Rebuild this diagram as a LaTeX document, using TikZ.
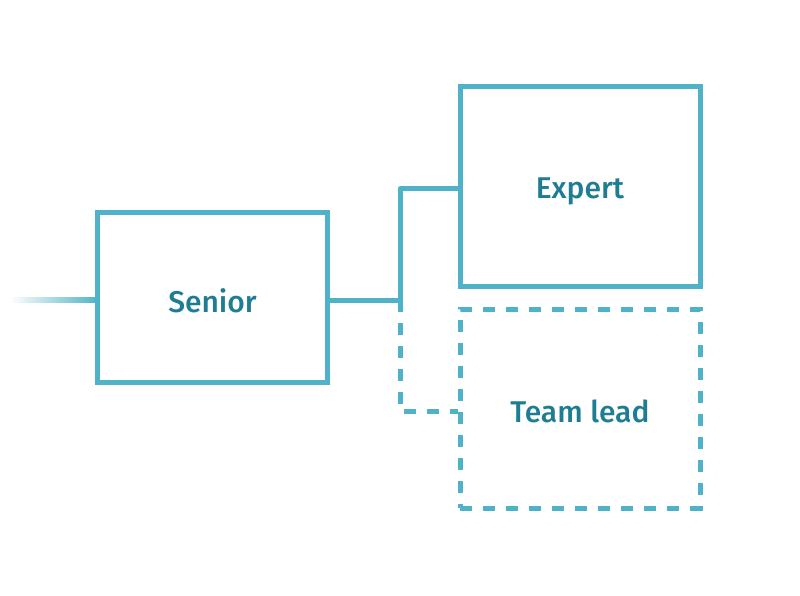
\documentclass[tikz,border=0pt]{standalone}
\usepackage{fontspec}
\setmainfont{Fira Sans}[BoldFont={Fira Sans Medium}]
\usetikzlibrary{shadings}
\definecolor{boxcol}{HTML}{4FB2C8}
\definecolor{txtcol}{HTML}{1F7D93}
\tikzset{
  card/.style={draw=boxcol, line width=5pt, minimum width=230pt, minimum height=170pt, inner sep=0pt},
  bigcard/.style={card, minimum width=240pt, minimum height=199pt},
  dashcard/.style={bigcard, dash pattern=on 12pt off 11pt},
  link/.style={draw=boxcol, line width=5pt},
  dlink/.style={link, dash pattern=on 12pt off 11pt},
  lbl/.style={text=txtcol, font=\bfseries\fontsize{30}{34}\selectfont, inner sep=0pt}
}
\begin{document}
\begin{tikzpicture}[x=1pt,y=-1pt]
\useasboundingbox (0,0) rectangle (800,596);
\shade[left color=white, right color=boxcol] (10,297.5) rectangle (98,302.5);
\node[card] (senior) at (212.5,297) {};
\node[bigcard] (expert) at (580,186.5) {};
\node[dashcard] (team) at (580,408.5) {};
\node[lbl] (seniorlbl) at (212.5,300.5) {Senior};
\node[lbl] (expertlbl) at (580,191) {Expert};
\node[lbl] (teamlbl) at (580,411.5) {Team lead};
\coordinate (j) at (400,300);
\draw[link, line join=round] (senior.east |- j) -- (j) -- (400,189) -- (expert.west |- 0,189);
\draw[dlink] (j) -- (400,411) -- (team.west |- 0,411);
\end{tikzpicture}
\end{document}
